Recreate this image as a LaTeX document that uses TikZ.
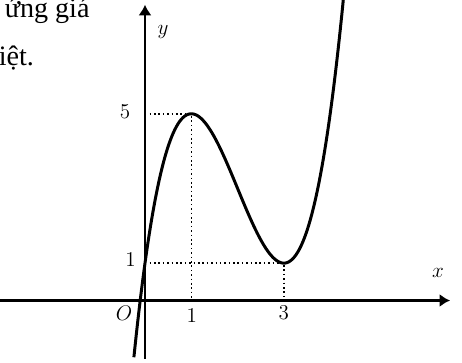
\documentclass[tikz,border=0pt]{standalone}
\usepackage{fontspec}
\setmainfont{Liberation Serif}
\usetikzlibrary{arrows.meta}

\begin{document}
\begin{tikzpicture}[x=0.926cm, y=0.747cm,
    axis/.style={line width=1.5pt, -{Latex[length=6pt,width=7.5pt]}},
    guide/.style={line width=0.9pt, dash pattern=on 0.9pt off 1.6pt},
    graph/.style={line width=1.7pt},
    lbl/.style={font=\fontsize{12}{14}\selectfont, inner sep=0pt},
    txt/.style={font=\fontsize{16}{19}\selectfont, inner sep=0pt, anchor=base east}]

\useasboundingbox (-3.132,-1.673) rectangle (6.847,8.046);
\clip (-3.132,-1.673) rectangle (6.847,8.046);

% ---- Text cut from the page ----
\node[txt] (line1) at (-1.19,7.59) {ứng giá};
\node[txt] (line2) at (-2.39,6.29) {iệt.};

% ---- Axes ----
\coordinate (O) at (0,0);
\coordinate (xstart) at (-3.2,0);
\coordinate (xend) at (6.59,0);
\coordinate (ystart) at (0,-1.56);
\coordinate (yend) at (0,7.92);
\draw[axis] (xstart) -- (xend);
\draw[axis] (ystart) -- (yend);

% ---- Extreme points and their guides ----
\coordinate (maxpt) at (1,5);
\coordinate (minpt) at (3,1);
\coordinate (y5) at (0.1,5);
\coordinate (y1) at (0.1,1);
\coordinate (x1) at (1,0.08);
\coordinate (x3) at (3,0.08);
\draw[guide] (y5) -- (maxpt) -- (x1);
\draw[guide] (y1) -- (minpt) -- (x3);

% ---- The curve ----
\draw[graph, domain=-0.24:4.29, samples=120, smooth]
    plot (\x, {\x*\x*\x-6*\x*\x+9*\x+1});

% ---- Labels ----
\node[lbl] (ylab) at (0.39,7.19) {$y$};
\node[lbl] (xlab) at (6.33,0.74) {$x$};
\node[lbl] (olab) at (-0.45,-0.33) {$O$};
\node[lbl] (tick1) at (1.01,-0.42) {$1$};
\node[lbl] (tick3) at (3.0,-0.33) {$3$};
\node[lbl] (tick5) at (-0.43,5.05) {$5$};
\node[lbl] (tick1y) at (-0.31,1.08) {$1$};

\end{tikzpicture}
\end{document}
